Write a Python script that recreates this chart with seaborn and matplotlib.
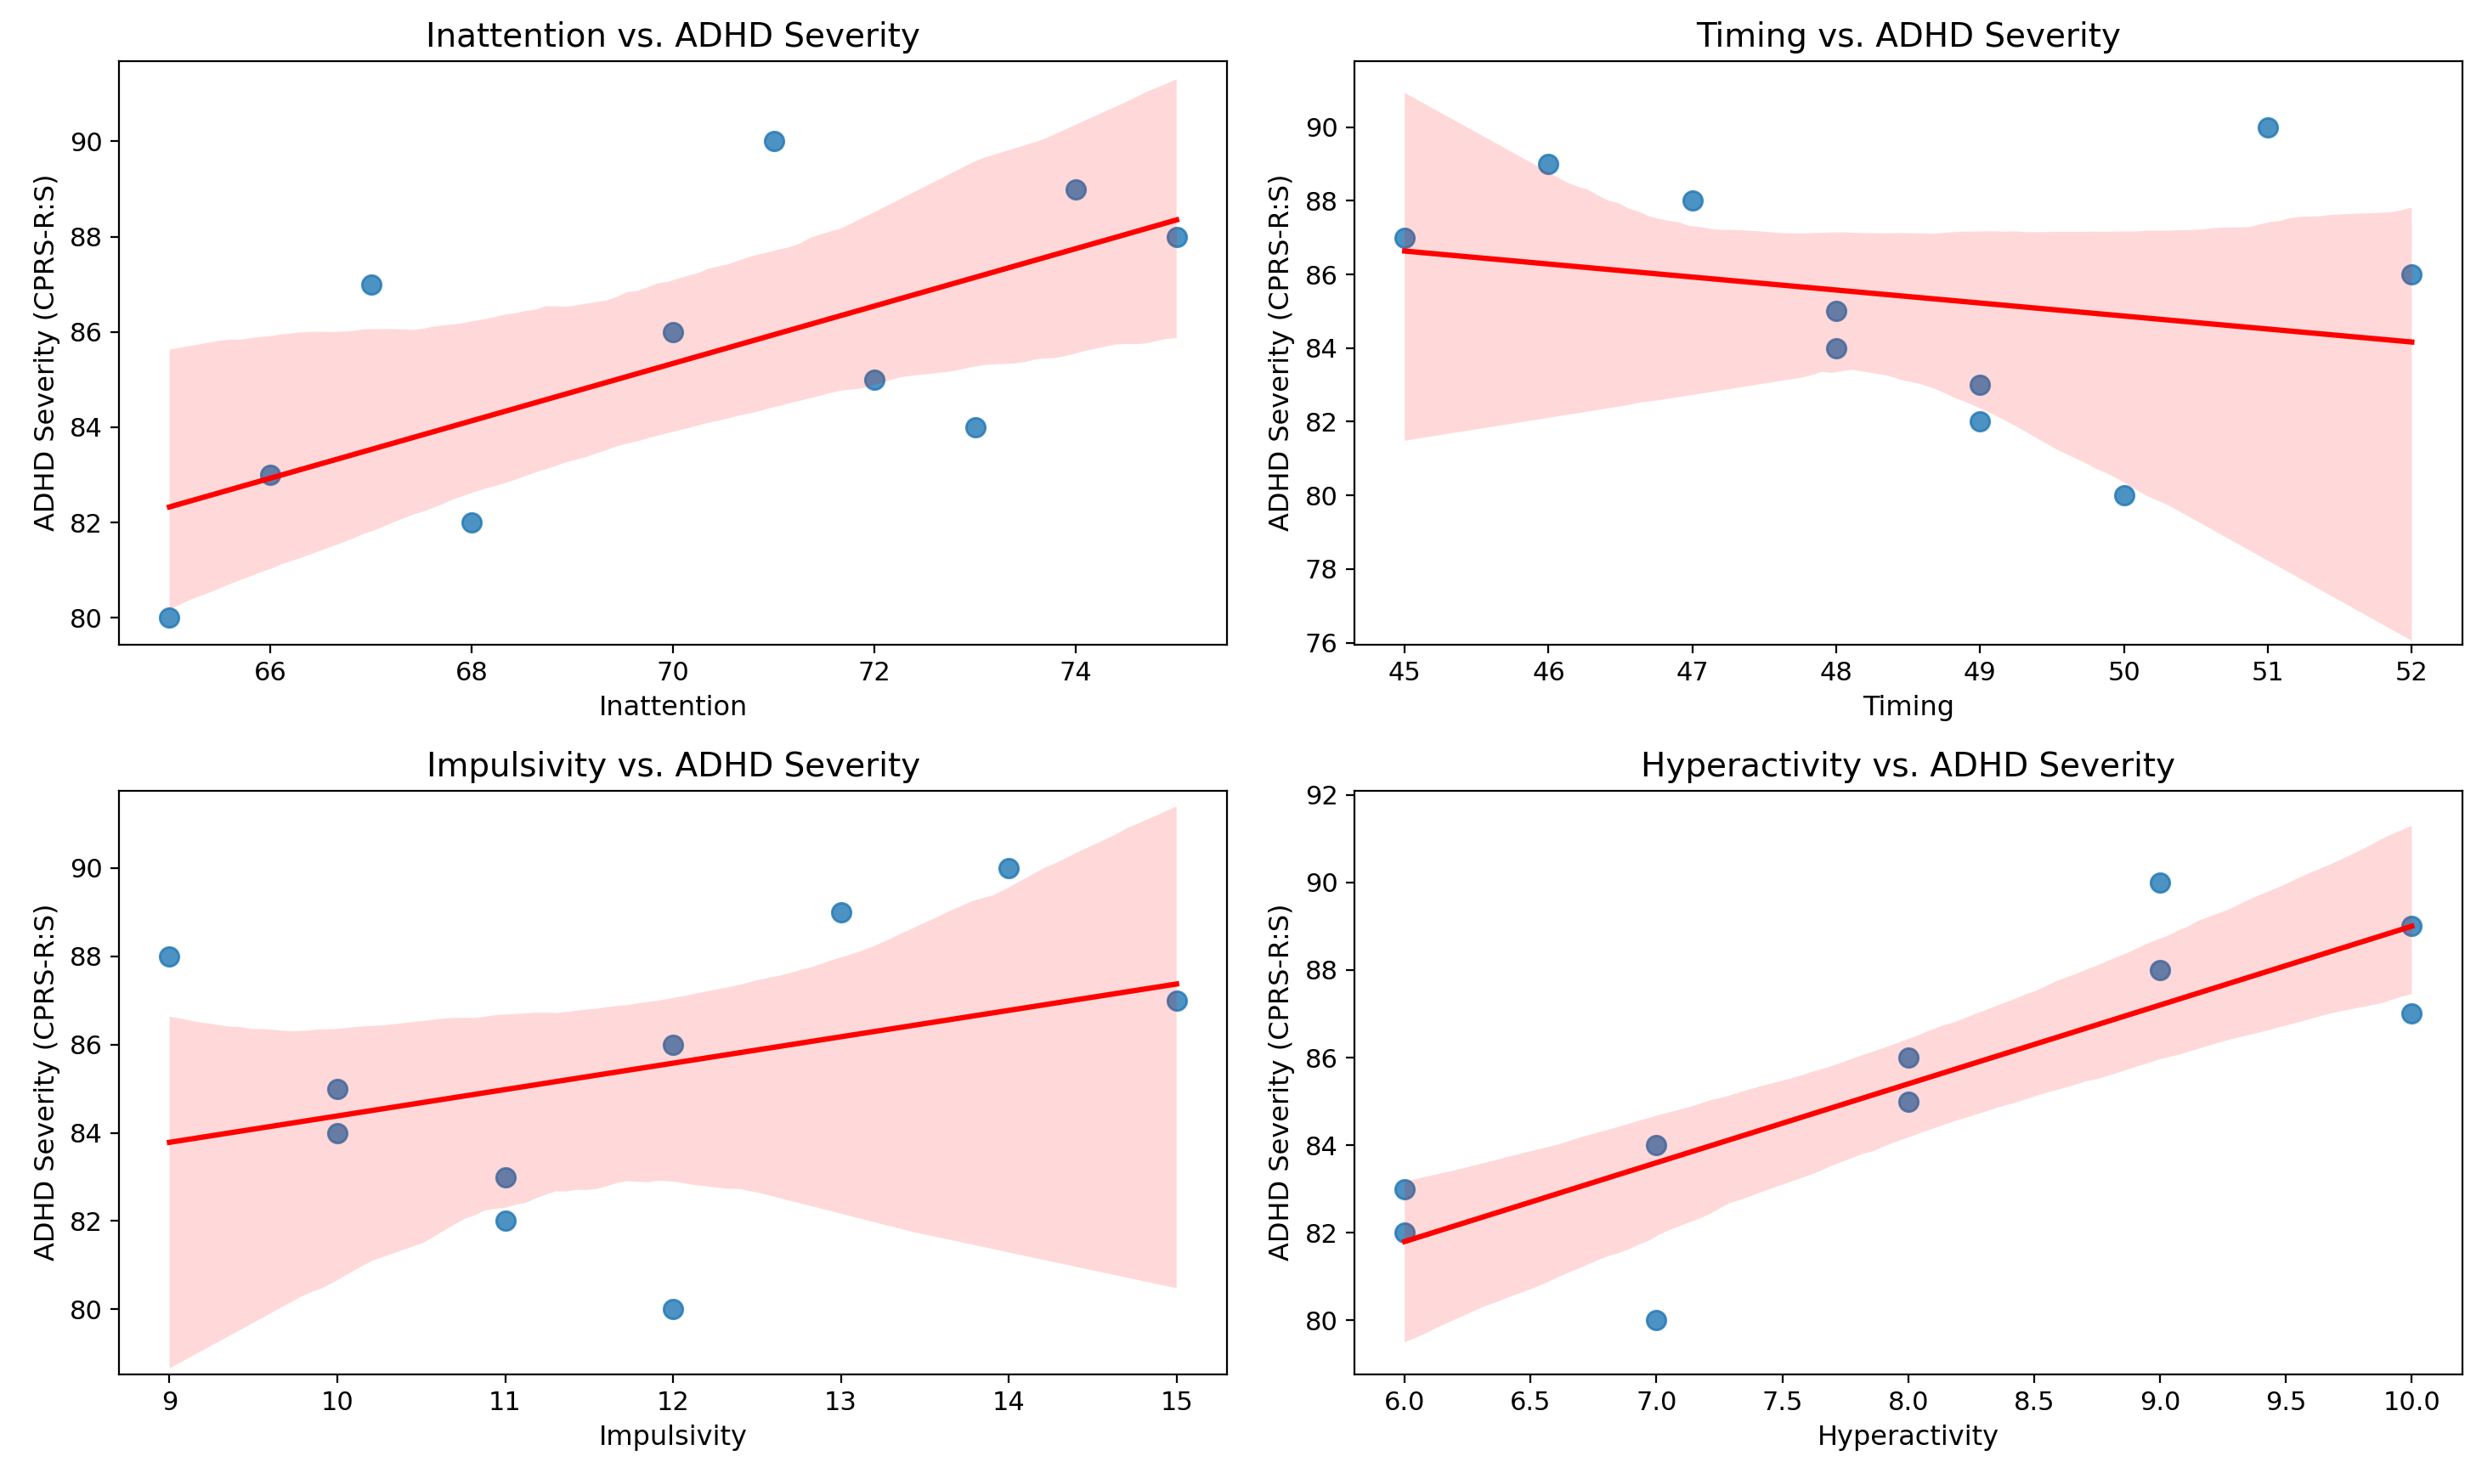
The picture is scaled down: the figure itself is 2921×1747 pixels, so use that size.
import matplotlib
matplotlib.use("Agg")
import matplotlib.pyplot as plt
import seaborn as sns
import pandas as pd

# one row per subject
severity = [80, 82, 83, 84, 85, 86, 87, 88, 89, 90]
inattention = [65, 68, 66, 73, 72, 70, 67, 75, 74, 71]
timing = [50, 49, 49, 48, 48, 52, 45, 47, 46, 51]
impulsivity = [12, 11, 11, 10, 10, 12, 15, 9, 13, 14]
hyperactivity = [7, 6, 6, 7, 8, 8, 10, 9, 10, 9]

features = ["Inattention", "Timing", "Impulsivity", "Hyperactivity"]
ylims = [(79.44, 91.69), (75.95, 91.8), (78.53, 91.76), (78.77, 92.1)]

df = pd.DataFrame({
    "Inattention": inattention,
    "Timing": timing,
    "Impulsivity": impulsivity,
    "Hyperactivity": hyperactivity,
    "ADHD Severity (CPRS-R:S)": severity,
})

fig, axes = plt.subplots(2, 2, figsize=(14.605, 8.735), dpi=200)
plt.subplots_adjust(left=0.048, right=0.992, top=0.959, bottom=0.074,
                    wspace=0.115, hspace=0.25)

for ax, feat, lim in zip(axes.flat, features, ylims):
    sns.regplot(data=df, x=feat, y="ADHD Severity (CPRS-R:S)", ax=ax,
                scatter_kws={"s": 65}, line_kws={"color": "red"}, seed=3)
    ax.set_title(f"{feat} vs. ADHD Severity", fontsize=14)
    ax.set_ylim(*lim)
    ax.xaxis.label.set_size(11.5)
    ax.yaxis.label.set_size(11.5)
    ax.tick_params(labelsize=11)

plt.savefig("out.png", dpi=200)
